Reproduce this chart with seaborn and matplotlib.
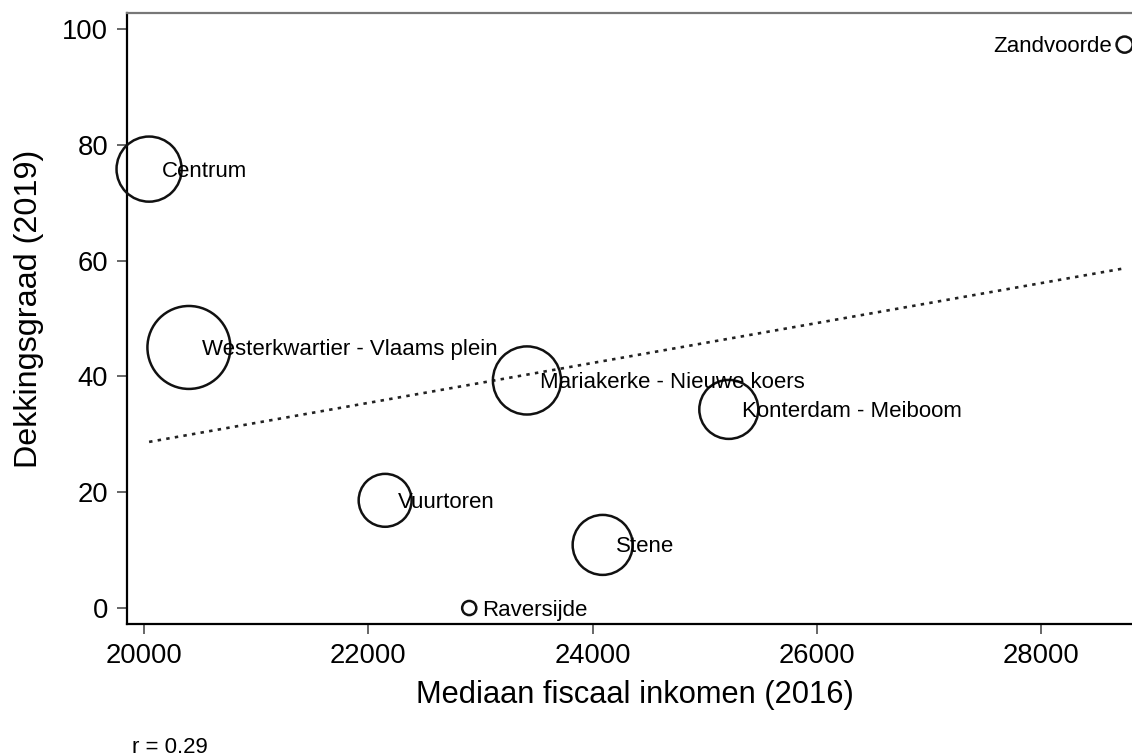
import numpy as np
import pandas as pd
import matplotlib
matplotlib.use("Agg")
import matplotlib.pyplot as plt
import seaborn as sns

# ---- data ----
wijken = ["Centrum", "Westerkwartier - Vlaams plein", "Mariakerke - Nieuwe koers",
          "Konterdam - Meiboom", "Vuurtoren", "Stene", "Raversijde", "Zandvoorde"]
inkomen = [20045, 20400, 23415, 25215, 22150, 24090, 22900, 28745]
dekking = [75.8, 45.0, 39.3, 34.3, 18.6, 10.9, 0.0, 97.3]
bevolking = [10600, 17200, 11600, 8700, 7000, 9000, 500, 650]

x_ticks = [20000, 22000, 24000, 26000, 28000]
y_ticks = [0, 20, 40, 60, 80, 100]
x_label = "Mediaan fiscaal inkomen (2016)"
y_label = "Dekkingsgraad (2019)"

df = pd.DataFrame({"wijk": wijken, "inkomen": inkomen,
                   "dekking": dekking, "bevolking": bevolking})

sns.set_theme(style="white")
plt.rcParams["font.family"] = ["Liberation Sans", "DejaVu Sans"]

W, H, DPI = 1132, 756, 100
fig = plt.figure(figsize=(W / DPI, H / DPI), dpi=DPI)
ax_left, ax_right, ax_top, ax_bottom = 127, 1142, 13, 624
ax = fig.add_axes([ax_left / W, 1 - ax_bottom / H,
                   (ax_right - ax_left) / W, (ax_bottom - ax_top) / H])

# bubble area proportional to population
k = 0.20736
wmax = max(bevolking)
sns.scatterplot(data=df, x="inkomen", y="dekking", size="bevolking",
                sizes=(0, k * wmax), size_norm=(0, wmax), legend=False,
                ax=ax, clip_on=False, zorder=3)
coll = ax.collections[-1]
coll.set_facecolor("none")
coll.set_edgecolor("#111111")
coll.set_linewidth(1.8)

# linear fit (dotted)
sns.regplot(data=df, x="inkomen", y="dekking", scatter=False, ci=None,
            truncate=True, ax=ax,
            line_kws=dict(color="#222222", lw=1.9, linestyle=(0, (1.3, 2.0))))

# labels
for _, row in df.iterrows():
    if row["wijk"] == "Zandvoorde":
        ax.annotate(row["wijk"], (row["inkomen"], row["dekking"]),
                    xytext=(-9, -1.5), textcoords="offset points",
                    ha="right", va="center", fontsize=16, color="black",
                    zorder=4, annotation_clip=False)
    else:
        ax.annotate(row["wijk"], (row["inkomen"], row["dekking"]),
                    xytext=(9.5, -1.5), textcoords="offset points",
                    ha="left", va="center", fontsize=16, color="black",
                    zorder=4, annotation_clip=False)

ax.set_xlim(19848, 28900)
ax.set_ylim(-2.76, 102.76)
ax.set_xticks(x_ticks)
ax.set_yticks(y_ticks)
ax.tick_params(axis="both", which="both", direction="out", length=7.5,
               width=1.4, color="#666666", labelsize=19.7, labelcolor="black",
               left=True, bottom=True, pad=6)
ax.set_xlabel(x_label, fontsize=22.2, color="black", labelpad=8)
ax.set_ylabel(y_label, fontsize=23.3, color="black")
ax.yaxis.set_label_coords(-0.082, 0.515)

for side in ["left", "bottom"]:
    ax.spines[side].set_color("black")
    ax.spines[side].set_linewidth(1.6)
ax.spines["top"].set_color("#777777")
ax.spines["top"].set_linewidth(1.6)
ax.spines["right"].set_visible(False)

r = np.corrcoef(inkomen, dekking)[0, 1]
fig.text(132 / W, 1 - 753 / H, f"r = {r:.2f}", fontsize=16, color="black",
         ha="left", va="baseline")

fig.savefig("out.png", dpi=DPI, facecolor="white")
